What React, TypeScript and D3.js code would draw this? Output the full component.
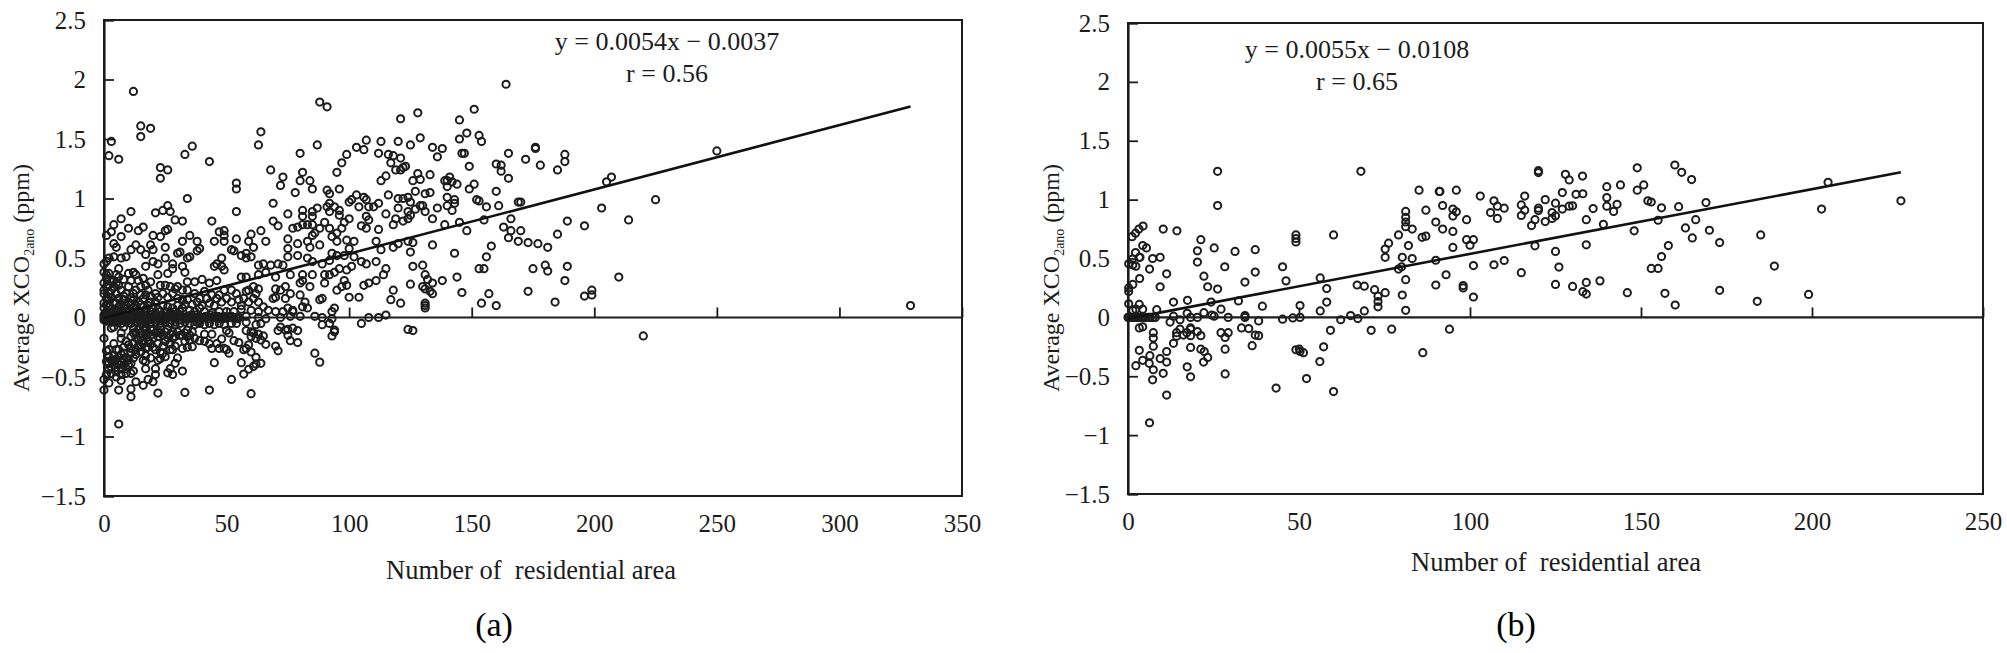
import { useRef, useEffect } from "react";
import * as d3 from "d3";

type Pt = [number, number];

const xTicksA = [0, 50, 100, 150, 200, 250, 300, 350];
const xTicksB = [0, 50, 100, 150, 200, 250];
const yTicks = [-1.5, -1, -0.5, 0, 0.5, 1, 1.5, 2, 2.5];

// panel (a)
const upperA: Pt[] = [
  [12,1.9],[15,1.61],[15,1.52],[19,1.59],[3,1.48],[2,1.36],[6,1.33],[23,1.26],[23,1.17],[26,1.24],[33,1.37],[36,1.44],[43,1.31],[34,1],[54,1.13],[54,1.08],[54,0.89],[44,0.81],[64,1.56],[63,1.45],[68,1.24],[73,1.18],[72,1.11],[69,0.96],[75,0.87],[69,0.81],[71,0.77],[80,1.38],[81,1.22],[80,1.15],[84,1.15],[85,1.08],[78,1.05],[87,1.45],[88,1.81],[91,1.77],[95,1.22],[97,1.3],[99,1.37],[103,1.43],[106,1.41],[107,1.49],[113,1.48],[112,1.38],[120,1.48],[121,1.67],[116,1.37],[118,1.36],[117,1.3],[119,1.24],[115,1.19],[113,1.15],[96,1.08],[91,1.07],[92,1.04],[103,1.03],[116,1.03],[120,1],[100,0.97],[101,0.99],
  [164,1.96],[151,1.75],[128,1.72],[145,1.66],[129,1.51],[125,1.45],[145,1.5],[148,1.55],[153,1.53],[154,1.48],[134,1.43],[138,1.42],[136,1.35],[146,1.38],[147,1.38],[165,1.38],[176,1.43],[176,1.42],[172,1.33],[178,1.28],[188,1.37],[188,1.31],[185,1.24],[149,1.27],[160,1.29],[162,1.28],[162,1.23],[165,1.17],[121,1.34],[121,1.24],[123,1.27],[122,1.26],[128,1.21],[126,1.15],[129,1.16],[133,1.2],[139,1.15],[140,1.15],[141,1.18],[142,1.14],[144,1.12],[140,1.1],[151,1.12],[149,1.08],[160,1.06],[127,1.06],[131,1.04],[133,1.05],[122,1],[124,1.01],[125,0.97],[140,1.01],[143,0.99],[143,0.96],[140,0.94],[142,0.9],[152,0.99],[153,0.98],[156,0.93],[161,0.94],[169,0.97],[170,0.97],
  [205,1.14],[207,1.18],[225,0.99],[250,1.4],[203,0.92],[214,0.82],[189,0.81],[196,0.77],[185,0.7],
];
const middleA: Pt[] = [
  [11,0.89],[7,0.83],[4,0.78],[1,0.69],[3,0.72],[7,0.68],[10,0.75],[14,0.73],[16,0.76],[21,0.88],[24,0.9],[26,0.94],[27,0.89],[29,0.82],[32,0.81],[4,0.62],[5,0.59],[13,0.61],[11,0.57],[20,0.69],[23,0.68],[25,0.73],[26,0.74],[19,0.61],[20,0.57],[25,0.59],[32,0.64],[35,0.69],[38,0.64],[39,0.58],[38,0.56],[31,0.55],[30,0.54],[35,0.51],[34,0.5],[25,0.5],[17,0.53],[15,0.57],[9,0.51],[7,0.5],[4,0.51],[2,0.5],[0,0.45],[1,0.47],[6,0.41],[17,0.43],[20,0.47],[22,0.45],[28,0.45],[28,0.41],[32,0.43],[33,0.38],[26,0.37],[22,0.36],[10,0.37],[12,0.38],[13,0.36],
  [45,0.64],[49,0.73],[47,0.72],[49,0.69],[49,0.64],[54,0.66],[52,0.57],[53,0.56],[59,0.64],[60,0.7],[64,0.73],[66,0.64],[61,0.59],[56,0.52],[58,0.5],[60,0.51],[58,0.54],[48,0.5],[45,0.43],[46,0.45],[48,0.43],[49,0.4],[34,0.3],[37,0.3],[40,0.32],[43,0.29],[46,0.31],[34,0.23],[63,0.44],[65,0.45],[68,0.44],[71,0.45],[73,0.44],[63,0.36],[66,0.38],[70,0.34],[75,0.51],[75,0.58],[75,0.66],[79,0.62],[77,0.75],[79,0.76],[81,0.78],[81,0.85],[81,0.9],[85,0.89],[85,0.85],[83,0.78],[85,0.78],[88,0.75],[86,0.71],[85,0.69],[83,0.64],[84,0.59],[88,0.61],[79,0.52],[83,0.5],[85,0.47],[81,0.36],[85,0.36],[80,0.29],[81,0.31],[84,0.26],[76,0.36],[74,0.26],[72,0.23],[70,0.17],[70,0.24],[74,0.16],[76,0.2],[80,0.19],[82,0.13],[81,0.09],[83,0.08],[77,0.06],[88,0.15],[89,0.16],[94,0.08],[93,0.05],
  [87,0.92],[91,0.93],[92,0.96],[92,0.89],[94,0.93],[96,0.9],[96,0.86],[90,0.8],[92,0.75],[93,0.68],[95,0.71],[97,0.75],[98,0.8],[100,0.83],[95,0.64],[99,0.65],[102,0.64],[100,0.58],[98,0.52],[95,0.52],[93,0.54],[92,0.48],[89,0.45],[105,0.77],[107,0.75],[104,0.93],[106,1.01],[107,0.99],[108,0.93],[110,0.93],[112,0.96],[107,0.85],[108,0.82],[112,0.74],[115,0.87],[119,0.83],[118,0.78],[111,0.64],[120,0.92],[113,0.57],[118,0.59],[120,0.62],
  [100,0.17],[104,0.17],[106,0.27],[108,0.29],[111,0.31],[114,0.36],[115,0.41],[118,0.23],[117,0.15],[121,0.12],[108,0],[112,0],[115,0.02],[102,0.51],[105,0.47],[107,0.45],[111,0.47],[101,0.43],[99,0.4],[96,0.41],[98,0.31],[99,0.27],[97,0.26],[95,0.23],[90,0.29],[92,0.36],[94,0.38],[90,0.36],
  [129,0.94],[130,0.94],[127,0.91],[131,0.89],[136,0.92],[134,0.83],[124,0.89],[125,0.86],[124,0.83],[122,0.81],[139,0.78],[145,0.8],[155,0.82],[166,0.83],[148,0.73],[163,0.76],[166,0.73],[170,0.73],[165,0.67],[169,0.64],[173,0.63],[177,0.62],[181,0.59],[124,0.64],[126,0.63],[125,0.55],[134,0.61],[143,0.54],[158,0.6],[156,0.51],[126,0.43],[130,0.44],[131,0.36],[132,0.32],[134,0.29],[138,0.31],[144,0.34],[153,0.41],[155,0.41],[175,0.41],[180,0.44],[181,0.39],[189,0.43],[188,0.31],[210,0.34],[125,0.28],[130,0.26],[131,0.24],[133,0.22],[134,0.2],[146,0.21],[157,0.2],[173,0.22],[154,0.12],[160,0.1],[184,0.13],[196,0.18],[199,0.23],[199,0.19],[131,0.12],[131,0.1],[131,0.08],[329,0.1],
];
const lowA: Pt[] = [
  [0,0.38],[1,0.36],[2,0.37],[4,0.31],[6,0.34],[0,0.29],[1,0.26],[0,0.23],[0,0.2],[2,0.2],[3,0.23],[4,0.26],[6,0.27],[7,0.23],[9,0.2],[10,0.26],[12,0.2],[13,0.23],[15,0.26],[17,0.27],[18,0.23],[17,0.19],[16,0.16],[14,0.13],[12,0.15],[10,0.13],[8,0.15],[6,0.16],[4,0.13],[2,0.15],[0,0.12],[0,0.08],[2,0.09],[4,0.06],[6,0.09],[8,0.08],[10,0.06],[12,0.08],[14,0.06],[16,0.09],[18,0.1],[20,0.08],[21,0.13],[23,0.27],[25,0.27],[27,0.26],[29,0.24],[30,0.26],[32,0.23],[24,0.2],[26,0.17],[28,0.2],[30,0.16],[32,0.15],[24,0.1],[26,0.09],[28,0.08],[32,0.08],[35,0.06],[38,0.13],[40,0.1],[43,0.12],[39,0.16],[37,0.2],[47,0.19],[49,0.23],[52,0.23],[54,0.2],[56,0.34],[58,0.34],[61,0.26],[59,0.23],[62,0.2],[63,0.24],[45,0.1],[46,0.16],[48,0.13],[50,0.16],[52,0.13],[55,0.15],[57,0.16],[59,0.13],[61,0.16],[63,0.13],[65,0.09],[67,0.06],[69,0.16],[70,0.05],[73,0.05],[75,0.08],[77,0.05],[39,0.08],
];
// the black cloud close to the origin, where single rings can only be estimated
const denseA: Pt[] = [
  [1,0.33],[3,0.3],[5,0.29],[2,0.27],[3,0.17],[5,0.2],[5,0.12],[1,0.16],[1,0.11],[3,0.07],[1,0.05],[3,0.04],[5,0.05],[7,0.04],[9,0.05],[7,0.11],[9,0.1],[11,0.11],[8,0.18],[11,0.17],[13,0.1],[15,0.11],[13,0.04],[15,0.04],[17,0.05],[19,0.05],[19,0.13],[19,0.18],[15,0.19],[21,0.2],[22,0.17],[22,0.07],[21,0.04],[23,0.05],[25,0.05],[27,0.04],[29,0.05],[30,0.1],[31,0.05],[33,0.11],[34,0.15],[36,0.11],[37,0.05],[41,0.05],[44,0.04],[47,0.05],[50,0.05],[53,0.05],[56,0.07],[60,0.06],[63,0.05],[42,0.16],[44,0.19],[41,0.22],[56,0.1],[58,0.22],[5,0.36],[8,0.32],[11,0.31],[14,0.31],[16,0.33],[19,0.3],
  [1,-0.03],[3,-0.04],[5,-0.04],[7,-0.05],[9,-0.04],[11,-0.05],[13,-0.04],[15,-0.05],[17,-0.04],[19,-0.05],[21,-0.04],[23,-0.05],[25,-0.04],[27,-0.05],[29,-0.04],[31,-0.05],[33,-0.04],[35,-0.05],[37,-0.06],[39,-0.05],[41,-0.06],[43,-0.05],[45,-0.06],[47,-0.05],[49,-0.06],[52,-0.05],[54,-0.05],[12,-0.13],[11,-0.16],[13,-0.17],[14,-0.1],[15,-0.17],[17,-0.11],[18,-0.13],[19,-0.1],[21,-0.13],[23,-0.09],[24,-0.15],[26,-0.17],[26,-0.1],[27,-0.14],[29,-0.16],[31,-0.15],[33,-0.13],[35,-0.15],[12,-0.22],[14,-0.24],[16,-0.22],[19,-0.22],[20,-0.25],[22,-0.22],[24,-0.24],[25,-0.2],[27,-0.22],[29,-0.24],
  [2,-0.33],[3,-0.36],[5,-0.35],[6,-0.33],[6,-0.39],[5,-0.42],[3,-0.42],[7,-0.43],[8,-0.35],[10,-0.4],[10,-0.36],[12,-0.34],[9,-0.47],[7,-0.31],[5,-0.5],[2,-0.44],[4,-0.36],[12,-0.45],[13,-0.27],[15,-0.29],[17,-0.32],[19,-0.34],[25,-0.33],[6,-0.27],[8,-0.25],[11,-0.26],
];
const zeroA: Pt[] = [
  [0,0],[0,0.02],[0,-0.02],[1,0.01],[1,-0.01],[2,0],[2,0.02],[3,-0.01],[3,0.01],[4,0],[5,0.01],[5,-0.02],[6,0],[7,0.01],[7,-0.01],[8,0],[9,0.02],[9,-0.01],[10,0],[11,0.01],[12,-0.01],[12,0.01],[13,0],[14,0.01],[15,-0.01],[15,0.02],[16,0],[17,-0.01],[17,0.01],[18,0],[19,0.02],[19,-0.01],[20,0],[21,0.01],[22,0],[22,-0.02],[23,0.01],[24,0],[25,-0.01],[25,0.01],[26,0],[27,0.02],[28,0],[29,-0.01],[29,0.01],[30,0],[31,0.01],[32,0],[33,-0.01],[34,0.01],[35,0],[36,0.01],[37,0],[38,-0.01],[39,0.01],[40,0],[41,0],[42,0.01],[43,-0.01],[44,0],[45,0.01],[46,0],[47,-0.01],[48,0],[49,0.01],[50,0],[51,0],[52,0.01],[53,-0.01],[54,0],[55,0],[58,0.01],[63,0],[66,-0.01],[72,0],[76,0.01],[80,0.01],[86,0.01],[89,0],[93,-0.01],
  [0.5,0.02],[1.5,-0.02],[2.5,0.02],[3.5,-0.02],[4.5,0.02],[5.5,-0.01],[6.5,0.02],[7.5,-0.02],[8.5,0.01],[9.5,-0.02],[10.5,0.02],[11.5,-0.02],[13.5,0.02],[14.5,-0.02],[16.5,0.02],[18.5,-0.02],[20.5,0.02],[21.5,-0.02],[23.5,0.02],[24.5,-0.02],[26.5,0.01],[27.5,-0.02],[30.5,0.02],[31.5,-0.02],[34.5,-0.01],[35.5,0.02],[37.5,0.02],[39.5,-0.02],[41.5,0.01],[43.5,0.02],[46.5,0.01],[48.5,-0.01],[51.5,0.01],[54.5,-0.01],
];
const belowA: Pt[] = [
  [0,-0.175],[4,-0.08],[3,-0.09],[8,-0.08],[7,-0.13],[7,-0.175],[9,-0.2],[4,-0.22],[10,-0.23],[5,-0.27],[2,-0.27],[1,-0.28],[4,-0.32],[8,-0.3],[9,-0.335],[11,-0.3],[13,-0.31],[11,-0.385],[1,-0.37],[2,-0.385],[4,-0.4],[7,-0.37],[8,-0.4],[9,-0.43],[11,-0.47],[5,-0.455],[3,-0.47],[1,-0.48],[7,-0.48],[0,-0.52],[2,-0.55],[7,-0.53],[0,-0.61],[6,-0.61],[11,-0.6],[11,-0.665],[13,-0.54],[16,-0.57],[18,-0.52],[20,-0.54],[22,-0.635],[33,-0.63],[43,-0.61],[60,-0.64],[52,-0.52],[6,-0.895],[32,-0.45],[26,-0.465],[28,-0.48],[27,-0.43],[29,-0.385],[30,-0.34],[21,-0.48],[21,-0.43],[17,-0.43],[16,-0.36],[17,-0.37],[22,-0.36],[23,-0.345],[24,-0.3],[23,-0.29],[21,-0.27],[27,-0.27],[28,-0.27],[32,-0.26],[34,-0.25],[36,-0.245],[45,-0.38],[56,-0.38],[57,-0.475],[59,-0.435],[61,-0.41],[62,-0.39],[64,-0.385],[62,-0.335],[86,-0.3],[88,-0.375],[44,-0.26],[47,-0.26],[46,-0.22],[48,-0.18],[50,-0.27],[51,-0.3],[49,-0.26],[53,-0.195],[55,-0.21],[57,-0.27],[58,-0.26],[60,-0.29],[59,-0.23],[66,-0.225],[70,-0.24],[71,-0.28],[76,-0.195],[79,-0.21],[74,-0.105],[72,-0.08],[71,-0.11],[75,-0.1],[77,-0.09],[79,-0.11],[75,-0.15],[58,-0.11],[60,-0.12],[61,-0.13],[63,-0.14],[65,-0.155],[60,-0.16],[62,-0.175],[64,-0.19],[50,-0.11],[51,-0.13],[44,-0.14],[41,-0.14],[39,-0.195],[41,-0.2],[43,-0.22],[37,-0.175],[35,-0.19],[33,-0.2],[34,-0.16],[32,-0.15],[36,-0.12],[34,-0.105],[29,-0.06],[28,-0.12],[30,-0.12],[28,-0.175],[25,-0.12],[23,-0.13],[22,-0.12],[20,-0.105],[17,-0.08],[19,-0.15],[17,-0.15],[15,-0.13],[14,-0.19],[16,-0.19],[18,-0.19],[20,-0.175],[22,-0.16],[15,-0.245],[17,-0.26],[18,-0.25],[16,-0.08],[12,-0.09],[13,-0.13],[58,-0.04],[62,-0.06],[64,-0.05],[38,-0.04],[89,-0.06],[92,-0.05],[94,-0.12],[93,-0.155],[94,-0.105],[105,-0.05],[124,-0.1],[126,-0.11],[220,-0.155],
];

// panel (b)
const pointsB: Pt[] = [
  [26.2,1.24],[26.2,0.95],[68.1,1.24],[85.1,1.08],[91,1.07],[87.1,0.91],[81.2,0.9],[81.2,0.85],[81.2,0.81],[81.2,0.77],[83.1,0.75],[90,0.81],[86,0.68],[87.1,0.69],[79.1,0.7],[82,0.61],[76.2,0.63],[75.2,0.58],[75.2,0.51],[80.2,0.51],[83.1,0.5],[90,0.485],[80,0.43],[79.1,0.41],[81.2,0.32],[90,0.275],[80.2,0.19],[81.2,0.06],
  [60.1,0.7],[49.1,0.7],[49.1,0.67],[49.1,0.64],[37.2,0.575],[31.3,0.56],[25.2,0.59],[21.3,0.66],[20.3,0.565],[20.3,0.47],[14.3,0.735],[10.3,0.75],[4.4,0.775],[3.2,0.75],[2.2,0.715],[1.2,0.685],[4.3,0.61],[5.4,0.59],[2.2,0.55],[3.3,0.51],[2.3,0.435],[1.3,0.495],[0.2,0.455],[1.4,0.445],[3.5,0.51],[7.2,0.5],[9.4,0.51],[6.3,0.41],[11.3,0.37],[3.4,0.33],[1.4,0.28],[9.4,0.26],[0.2,0.25],[0.2,0.22],[22.2,0.35],[23.3,0.26],[26.2,0.24],[28.3,0.43],[34.2,0.3],[37.2,0.385],[45.2,0.43],[46.2,0.31],[56.2,0.335],[58.1,0.245],[58.1,0.13],[56.2,0.055],[67,0.275],[69.1,0.265],[72.1,0.235],[73.1,0.18],[73.1,0.135],[73.1,0.09],[75.2,0.21],[69.1,0.055],
  [13.3,0.13],[17.4,0.145],[24.3,0.13],[32.3,0.14],[39.3,0.095],[50.3,0.1],[27.2,0.07],[8.4,0.065],[0.2,0.115],[3.3,0.11],[1.4,0.06],[4.3,0.07],[2.3,0.07],
  [0,0],[0.3,0],[0.8,0],[1.2,0],[1.8,0],[2.2,0],[2.8,0],[3.3,0],[4,0],[4.6,0],[5.2,0],[6,0],[6.5,0],[7.3,0],[8,0],[13.3,0.01],[17.3,0.035],[18.3,0],[20.3,0],[22.2,0.04],[24.5,0.02],[25.2,0.01],[29.3,0],[34.2,0.015],[34.2,0],[45.2,-0.015],[48.2,-0.005],[50.3,0],[62.2,-0.02],[65.1,0.015],[67.2,-0.01],[38.2,-0.03],[12.3,-0.04],[15.2,-0.02],
  [3.3,-0.09],[4.3,-0.08],[7.4,-0.13],[7.4,-0.175],[7.4,-0.245],[3.3,-0.28],[6.4,-0.325],[9.4,-0.35],[11.3,-0.29],[4.3,-0.365],[6.2,-0.39],[11.3,-0.38],[2.3,-0.41],[7.4,-0.445],[10.3,-0.475],[7.2,-0.53],[11.3,-0.66],[6.3,-0.895],[13.3,-0.22],[14.2,-0.13],[14.2,-0.16],[15.2,-0.1],[16.2,-0.15],[17.2,-0.13],[18.3,-0.09],[18.3,-0.1],[18.3,-0.155],[18.3,-0.255],[20.3,-0.12],[21.3,-0.155],[21.3,-0.27],[22.3,-0.29],[23.3,-0.34],[22.1,-0.38],[17.3,-0.42],[18.3,-0.505],[28.4,-0.27],[28.4,-0.48],[27.2,-0.13],[28.4,-0.17],[29.3,-0.13],[33.2,-0.09],[35.3,-0.095],[36.3,-0.24],[37.2,-0.15],[38.2,-0.155],[43.3,-0.6],[49.1,-0.275],[50.1,-0.27],[50.3,-0.29],[51.3,-0.3],[52.2,-0.52],[56.1,-0.375],[57.2,-0.25],[59.2,-0.11],[60.1,-0.63],[71.1,-0.11],[77.1,-0.1],[86.2,-0.3],
  [120,1.246],[120,1.23],[127.9,1.215],[129,1.167],[132.9,1.2],[148.9,1.27],[159.9,1.294],[161.9,1.232],[164.8,1.17],[140,1.11],[144,1.125],[150.8,1.125],[148.9,1.08],[204.7,1.147],[202.8,0.92],[91.2,1.07],[96,1.08],[103,1.03],[107,0.99],[108,0.944],[110,0.927],[106,0.89],[108,0.84],[116,1.03],[115,0.955],[116,0.91],[115,0.865],[122,1],[120,0.927],[120,0.907],[125,0.97],[127,1.06],[131,1.045],[133,1.05],[129,0.944],[130,0.947],[127,0.92],[125,0.862],[124,0.89],[124,0.84],[119,0.83],[118,0.78],[122,0.814],[134,0.83],[136,0.924],[140,1.017],[140,0.944],[143,0.96],[142,0.9],[139,0.79],[148,0.735],[152,0.99],[153,0.98],[156,0.93],[161,0.94],[155,0.825],[169,0.975],[166,0.83],[163,0.76],[170,0.74],[165,0.675],[173,0.636],[185,0.7],[189,0.436],[158,0.61],[156,0.517],[153,0.416],[155,0.416],[173,0.23],[184,0.136],[199,0.195],[146,0.21],[157,0.204],[160,0.105],[138,0.31],[134,0.297],[133,0.218],[134,0.198],[130,0.263],[125,0.28],[115,0.38],[110,0.483],[107,0.447],[101,0.44],[93,0.362],[98,0.27],[98,0.25],[101,0.173],[126,0.427],[125,0.56],[119,0.608],[134,0.616],[92,0.95],[95,0.92],[96,0.896],[95,0.86],[99,0.83],[92,0.75],[95,0.73],[99,0.66],[101,0.66],[100,0.613],[95,0.594],[94,-0.1],[226,0.99],
];

const pointsA: Pt[] = [...upperA, ...middleA, ...lowA, ...denseA, ...zeroA, ...belowA];
const trendA: Pt[] = [[0, -0.0037], [329, 1.773]];
const trendB: Pt[] = [[0, -0.0108], [226, 1.232]];

const ink = "#1c1c1c";
const font = "'Liberation Serif', 'Times New Roman', serif";

interface PanelOpts {
  points: Pt[];
  trend: Pt[];
  xTicks: number[];
  xMax: number;
  left: number;
  right: number;
  top: number;
  bottom: number;
  titleX: number;
  xTitleX: number;
  xTitleY: number;
  eqX: number;
  eqY: number;
  eq: string;
  r: string;
  tag: string;
  tagX: number;
}

function drawPanel(svg: d3.Selection<SVGSVGElement, unknown, null, undefined>, p: PanelOpts) {
  const x = d3.scaleLinear().domain([0, p.xMax]).range([p.left, p.right]);
  const y = d3.scaleLinear().domain([-1.5, 2.5]).range([p.bottom, p.top]);
  const g = svg.append("g");

  g.append("rect")
    .attr("x", p.left)
    .attr("y", p.top)
    .attr("width", p.right - p.left)
    .attr("height", p.bottom - p.top)
    .attr("fill", "none")
    .attr("stroke", ink)
    .attr("stroke-width", 2);

  const yAxis = g
    .append("g")
    .attr("transform", `translate(${p.left},0)`)
    .call(d3.axisLeft(y).tickValues(yTicks).tickSize(-10).tickPadding(18).tickFormat((d) => d3.format("")(d as number)));
  const xAxis = g
    .append("g")
    .attr("transform", `translate(0,${y(0)})`)
    .call(d3.axisBottom(x).tickValues(p.xTicks).tickSize(-10).tickFormat((d) => String(d)));

  [yAxis, xAxis].forEach((a) => {
    a.select(".domain").attr("stroke", ink).attr("stroke-width", 2.2);
    a.selectAll(".tick line").attr("stroke", ink).attr("stroke-width", 1.8);
    a.selectAll(".tick text")
      .attr("fill", ink)
      .attr("font-size", 25)
      .attr("font-family", font);
  });
  xAxis.selectAll(".tick text").attr("y", p.bottom - y(0) + 18);
  xAxis.select(".domain").attr("d", `M${p.left},0H${p.right}`);

  g.append("g")
    .selectAll("circle")
    .data(p.points)
    .join("circle")
    .attr("cx", (d) => x(d[0]))
    .attr("cy", (d) => y(d[1]))
    .attr("r", 3.6)
    .attr("fill", "none")
    .attr("stroke", ink)
    .attr("stroke-width", 2);

  const line = d3.line<Pt>().x((d) => x(d[0])).y((d) => y(d[1]));
  g.append("path")
    .attr("d", line(p.trend))
    .attr("fill", "none")
    .attr("stroke", "#111")
    .attr("stroke-width", 2.6);

  const title = g
    .append("text")
    .attr("transform", `translate(${p.titleX},278) rotate(-90)`)
    .attr("text-anchor", "middle")
    .attr("fill", ink)
    .attr("font-size", 24)
    .attr("font-family", font);
  title.append("tspan").text("Average XCO");
  title.append("tspan").attr("font-size", 14).attr("dy", 5).text("2ano");
  title.append("tspan").attr("dy", -5).text(" (ppm)");

  g.append("text")
    .attr("x", p.xTitleX)
    .attr("y", p.xTitleY)
    .attr("text-anchor", "middle")
    .attr("fill", ink)
    .attr("font-size", 26.5)
    .attr("font-family", font)
    .attr("xml:space", "preserve")
    .text("Number of  residential area");

  [p.eq, p.r].forEach((s, i) => {
    g.append("text")
      .attr("x", p.eqX)
      .attr("y", p.eqY + i * 31.5)
      .attr("text-anchor", "middle")
      .attr("fill", ink)
      .attr("font-size", 26)
      .attr("font-family", font)
      .text(s);
  });

  g.append("text")
    .attr("x", p.tagX)
    .attr("y", 636)
    .attr("text-anchor", "middle")
    .attr("fill", "#000")
    .attr("font-size", 34)
    .attr("font-family", font)
    .text(p.tag);
}

export default function App() {
  const svgRef = useRef<SVGSVGElement>(null);

  useEffect(() => {
    if (!svgRef.current) return;
    const svg = d3.select(svgRef.current);
    svg.selectAll("*").remove();

    drawPanel(svg, {
      points: pointsA,
      trend: trendA,
      xTicks: xTicksA,
      xMax: 350,
      left: 104,
      right: 962,
      top: 20,
      bottom: 496,
      titleX: 29,
      xTitleX: 531,
      xTitleY: 579,
      eqX: 667,
      eqY: 50,
      eq: "y = 0.0054x − 0.0037",
      r: "r = 0.56",
      tag: "(a)",
      tagX: 494,
    });
    drawPanel(svg, {
      points: pointsB,
      trend: trendB,
      xTicks: xTicksB,
      xMax: 250,
      left: 1128,
      right: 1983,
      top: 23,
      bottom: 494,
      titleX: 1059,
      xTitleX: 1556,
      xTitleY: 571,
      eqX: 1357,
      eqY: 58,
      eq: "y = 0.0055x − 0.0108",
      r: "r = 0.65",
      tag: "(b)",
      tagX: 1516,
    });
  }, []);

  return (
    <svg
      ref={svgRef}
      width={2007}
      height={653}
      style={{ position: "absolute", left: 0, top: 0, background: "#fff" }}
    />
  );
}
